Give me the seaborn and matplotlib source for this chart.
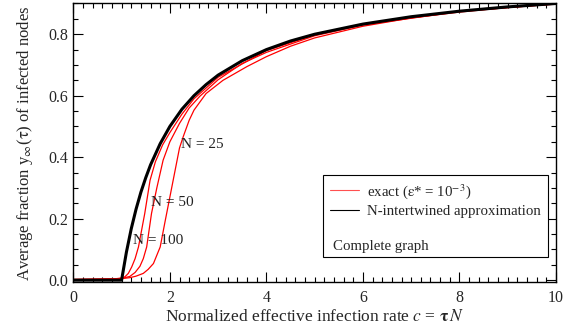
import matplotlib
matplotlib.use("Agg")
import matplotlib.pyplot as plt
import seaborn as sns
import pandas as pd
from matplotlib.lines import Line2D
from matplotlib.patches import Rectangle
from matplotlib.ticker import MultipleLocator

# ---- data ----
c_approx = [0, 0.5, 1.0, 1.1, 1.2, 1.3, 1.4, 1.5, 1.6, 1.8, 2.0, 2.25, 2.5, 2.75, 3.0,
            3.5, 4.0, 4.5, 5.0, 6.0, 7.0, 8.0, 9.0, 10.0]
y_approx = [0, 0, 0, 0.091, 0.167, 0.231, 0.286, 0.333, 0.375, 0.444, 0.5, 0.556, 0.6,
            0.636, 0.667, 0.714, 0.75, 0.778, 0.8, 0.833, 0.857, 0.875, 0.889, 0.9]

c_n25 = [0, 0.5, 0.9, 1.0, 1.17, 1.3, 1.45, 1.55, 1.66, 1.8, 1.9, 2.0, 2.1, 2.2, 2.28,
         2.4, 2.5, 2.75, 3.1, 3.6, 4.0, 4.5, 5.0, 6.0, 7.0, 8.0, 9.0, 10.0]
y_n25 = [0.002, 0.003, 0.004, 0.005, 0.008, 0.013, 0.022, 0.035, 0.054, 0.108, 0.19, 0.27,
         0.35, 0.43, 0.468, 0.52, 0.553, 0.607, 0.65, 0.695, 0.727, 0.761, 0.788, 0.826,
         0.853, 0.872, 0.887, 0.898]

c_n50 = [0, 0.5, 0.9, 1.0, 1.07, 1.17, 1.28, 1.38, 1.45, 1.52, 1.62, 1.73, 1.86, 2.0,
         2.2, 2.4, 2.62, 3.0, 3.5, 4.0, 5.0, 6.0, 8.0, 10.0]
y_n50 = [0.002, 0.003, 0.004, 0.006, 0.008, 0.012, 0.025, 0.045, 0.07, 0.108, 0.217,
         0.3, 0.39, 0.45, 0.51, 0.56, 0.598, 0.652, 0.705, 0.741, 0.795, 0.83, 0.874, 0.899]

c_n100 = [0, 0.5, 0.9, 1.0, 1.07, 1.14, 1.21, 1.28, 1.35, 1.48, 1.59, 1.7, 1.85, 2.0,
          2.25, 2.5, 3.0, 4.0, 5.0, 6.0, 8.0, 10.0]
y_n100 = [0.002, 0.003, 0.005, 0.007, 0.011, 0.022, 0.043, 0.07, 0.108, 0.217, 0.325,
          0.385, 0.44, 0.48, 0.54, 0.59, 0.66, 0.747, 0.798, 0.832, 0.875, 0.9]

labels_N = ["N = 25", "N = 50", "N = 100"]
label_pos = [(2.23, 0.44), (1.60, 0.252), (1.24, 0.13)]

# ---- styling ----
sns.set_style("ticks")
plt.rcParams["font.family"] = ["Liberation Serif", "DejaVu Serif"]
plt.rcParams["mathtext.fontset"] = "stix"

fig = plt.figure(figsize=(5.71, 3.33), dpi=100)
ax = fig.add_axes([0.1284, 0.1532, 0.8453, 0.8363])

for cs, ys in [(c_n25, y_n25), (c_n50, y_n50), (c_n100, y_n100)]:
    sns.lineplot(x=cs, y=ys, ax=ax, color="#ff0000", lw=0.9, sort=False,
                 estimator=None, legend=False)
sns.lineplot(x=c_approx, y=y_approx, ax=ax, color="black", lw=2.2, sort=False,
             estimator=None, legend=False)

for txt, (xp, yp) in zip(labels_N, label_pos):
    ax.text(xp, yp, txt, fontsize=11, va="center", ha="left", color="#222222")

ax.set_xlim(0, 10)
ax.set_ylim(-0.006, 0.9)
ax.xaxis.set_major_locator(MultipleLocator(2))
ax.xaxis.set_minor_locator(MultipleLocator(0.2))
ax.yaxis.set_major_locator(MultipleLocator(0.2))
ax.yaxis.set_minor_locator(MultipleLocator(0.05))
ax.yaxis.set_major_formatter(matplotlib.ticker.FormatStrFormatter("%.1f"))
ax.tick_params(which="both", direction="in", top=True, right=True, width=0.8,
               labelsize=11.5, color="black")
ax.tick_params(which="major", length=7)
ax.tick_params(which="minor", length=3.5)
ax.tick_params(axis="x", which="major", pad=6)
for s in ax.spines.values():
    s.set_linewidth(1.0)
    s.set_color("black")

ax.set_xlabel(r"Normalized effective infection rate $c$ = $\mathbf{\tau}\,N$", fontsize=12.5, labelpad=2)
ax.set_ylabel(r"Average fraction y$_\infty$($\mathrm{\tau}$) of infected nodes", fontsize=12, labelpad=10)

# legend box
ax.add_patch(Rectangle((0.517, 0.09), 0.466, 0.294, transform=ax.transAxes,
                       facecolor="white", edgecolor="black", lw=0.8, zorder=5))
handles = [Line2D([], [], color="#ff5050", lw=0.8),
           Line2D([], [], color="black", lw=0.8)]
leg = ax.legend(handles, [r"exact ($\mathrm{\varepsilon}$* = 10$^{-3}$)", "N-intertwined approximation"],
                loc="upper left", bbox_to_anchor=(0.525, 0.37), frameon=False,
                fontsize=10.7, handlelength=2.0, handletextpad=0.5, labelspacing=0.25,
                borderaxespad=0.0, borderpad=0.2)
leg.set_zorder(6)
ax.text(0.538, 0.126, "Complete graph", transform=ax.transAxes, fontsize=10.7,
        va="center", ha="left", zorder=7)

fig.savefig("out.png", dpi=100)
